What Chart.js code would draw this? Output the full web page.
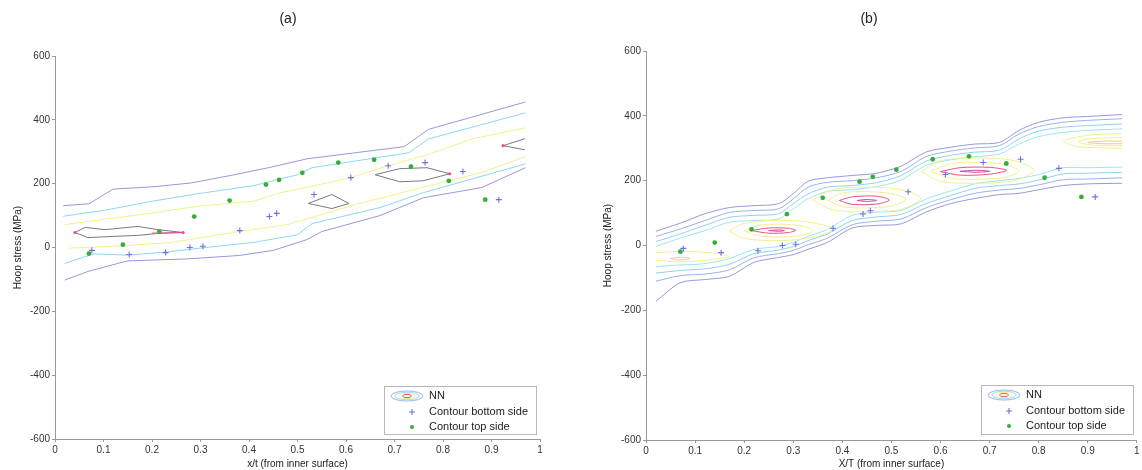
<!DOCTYPE html>
<html>
<head>
<meta charset="utf-8">
<script src="https://cdn.jsdelivr.net/npm/chart.js@4"></script>
<style>
  body { margin: 0; background: #fff; width: 1142px; height: 470px; overflow: hidden; position: relative; }
  canvas { position: absolute; top: 0; }
  #chartA { left: 0; }
  #chartB { left: 596px; }
</style>
</head>
<body>
<canvas id="chartA" width="576" height="470"></canvas>
<canvas id="chartB" width="546" height="470"></canvas>
<script>
// measured points, same in both panels
const bottomX = [0.076, 0.153, 0.228, 0.278, 0.305, 0.381, 0.442, 0.457, 0.534, 0.61, 0.687, 0.763, 0.841, 0.915];
const bottomY = [-9, -22, -16, 0, 4, 53, 97, 107, 166, 219, 256, 266, 238, 150];
const topX = [0.07, 0.14, 0.215, 0.287, 0.36, 0.435, 0.462, 0.51, 0.584, 0.658, 0.734, 0.812, 0.887];
const topY = [-19, 9, 50, 97, 147, 197, 212, 234, 266, 275, 253, 209, 150];

const xTicks = [0, 0.1, 0.2, 0.3, 0.4, 0.5, 0.6, 0.7, 0.8, 0.9, 1];
const yTicks = [-600, -400, -200, 0, 200, 400, 600];

// panel (a) NN contours
const aOuterUpX = [0.017, 0.07, 0.12, 0.2, 0.28, 0.37, 0.44, 0.52, 0.72, 0.77, 0.97];
const aOuterUpY = [131, 137, 183, 190, 202, 228, 250, 278, 316, 370, 456];
const aCyanUpX = [0.017, 0.1, 0.2, 0.31, 0.41, 0.5, 0.53, 0.73, 0.77, 0.97];
const aCyanUpY = [98, 116, 145, 172, 194, 228, 250, 297, 340, 422];
const aYellowUpX = [0.02, 0.1, 0.2, 0.3, 0.41, 0.46, 0.6, 0.7, 0.77, 0.86, 0.97];
const aYellowUpY = [72, 88, 108, 130, 145, 170, 215, 262, 292, 340, 375];
const aYellowLowX = [0.03, 0.14, 0.24, 0.38, 0.48, 0.62, 0.75, 0.88, 0.97];
const aYellowLowY = [-2, 5, 16, 50, 72, 135, 185, 235, 285];
const aCyanLowX = [0.02, 0.08, 0.15, 0.23, 0.31, 0.41, 0.5, 0.53, 0.67, 0.76, 0.97];
const aCyanLowY = [-50, -20, -24, -14, 0, 16, 40, 75, 125, 172, 262];
const aOuterLowX = [0.02, 0.07, 0.15, 0.27, 0.38, 0.45, 0.52, 0.55, 0.67, 0.76, 0.88, 0.97];
const aOuterLowY = [-102, -74, -42, -36, -25, -9, 25, 50, 100, 156, 188, 250];
const aLoop1X = [0.041, 0.062, 0.103, 0.171, 0.212, 0.264, 0.212, 0.171, 0.109, 0.068, 0.041];
const aLoop1Y = [47, 63, 56, 66, 56, 47, 44, 38, 34, 31, 47];
const aLoop2X = [0.522, 0.571, 0.606, 0.571, 0.522];
const aLoop2Y = [138, 166, 138, 122, 138];
const aLoop3X = [0.66, 0.711, 0.767, 0.814, 0.759, 0.711, 0.66];
const aLoop3Y = [228, 247, 250, 231, 209, 206, 228];
const aLoop4X = [0.969, 0.924, 0.969];
const aLoop4Y = [341, 319, 306];
const aPeakX = [0.041, 0.264, 0.814, 0.924];
const aPeakY = [47, 47, 231, 319];
const aRedX = [0.2, 0.264];
const aRedY = [45, 47];

// panel (b) NN contours, band lines on shared x knots
const bX = [0.02, 0.07, 0.12, 0.17, 0.22, 0.27, 0.30, 0.33, 0.37, 0.42, 0.47, 0.52, 0.57, 0.62, 0.67, 0.72, 0.76, 0.80, 0.85, 0.90, 0.97];
const bU1 = [44, 69, 98, 117, 123, 129, 160, 198, 209, 216, 223, 245, 288, 303, 313, 318, 355, 380, 394, 398, 404];
const bU2 = [28, 51, 77, 102, 108, 113, 144, 180, 195, 200, 209, 229, 274, 291, 301, 308, 344, 367, 380, 386, 391];
const bU3 = [12, 36, 62, 87, 93, 98, 129, 159, 180, 185, 194, 216, 260, 278, 288, 294, 329, 353, 365, 370, 375];
const bU4 = [-3, 23, 46, 72, 77, 82, 113, 144, 167, 172, 182, 202, 247, 264, 274, 282, 313, 336, 349, 355, 360];
const bL4 = [-65, -60, -56, -40, -12, -3, 10, 28, 50, 93, 103, 108, 143, 168, 190, 200, 207, 219, 240, 240, 242];
const bL3 = [-85, -77, -72, -58, -25, -14, -3, 15, 36, 77, 88, 96, 129, 154, 176, 185, 190, 202, 221, 223, 226];
const bL2 = [-110, -93, -88, -75, -38, -25, -15, 2, 23, 64, 75, 82, 116, 141, 161, 171, 176, 187, 203, 205, 209];
const bL1 = [-172, -115, -105, -95, -52, -37, -28, -12, 10, 54, 62, 67, 103, 129, 145, 157, 161, 172, 185, 190, 192];

// closed loops round the peaks
const bP0YelX = [0.02, 0.08, 0.14, 0.17, 0.13, 0.07, 0.02];
const bP0YelY = [-22, -18, -24, -34, -44, -50, -46];
const bP0OrX = [0.05, 0.07, 0.09, 0.07, 0.05];
const bP0OrY = [-40, -36, -40, -45, -40];
const bP1YelX = [0.17, 0.2, 0.27, 0.34, 0.38, 0.34, 0.27, 0.2, 0.17];
const bP1YelY = [45, 68, 78, 70, 50, 25, 15, 22, 45];
const bP1Yel2X = [0.2, 0.23, 0.27, 0.32, 0.34, 0.32, 0.27, 0.23, 0.2];
const bP1Yel2Y = [45, 62, 66, 60, 47, 32, 26, 30, 45];
const bP1RedX = [0.215, 0.25, 0.29, 0.305, 0.29, 0.25, 0.215];
const bP1RedY = [46, 54, 53, 47, 40, 38, 46];
const bP1MagX = [0.25, 0.27, 0.282, 0.27, 0.25];
const bP1MagY = [46, 48, 46, 44, 46];
const bP2YelX = [0.34, 0.38, 0.45, 0.52, 0.56, 0.52, 0.45, 0.38, 0.34];
const bP2YelY = [140, 172, 180, 172, 145, 112, 104, 110, 140];
const bP2Yel2X = [0.37, 0.4, 0.45, 0.5, 0.53, 0.5, 0.45, 0.4, 0.37];
const bP2Yel2Y = [140, 162, 166, 160, 142, 122, 116, 120, 140];
const bP2RedX = [0.394, 0.42, 0.47, 0.496, 0.47, 0.42, 0.394];
const bP2RedY = [139, 150, 152, 140, 128, 127, 139];
const bP2MagX = [0.43, 0.45, 0.47, 0.45, 0.43];
const bP2MagY = [139, 142, 139, 136, 139];
const bP3YelX = [0.56, 0.6, 0.67, 0.75, 0.79, 0.75, 0.67, 0.6, 0.56];
const bP3YelY = [228, 262, 270, 262, 232, 200, 192, 198, 228];
const bP3Yel2X = [0.58, 0.62, 0.67, 0.73, 0.76, 0.73, 0.67, 0.62, 0.58];
const bP3Yel2Y = [228, 252, 257, 250, 230, 210, 204, 208, 228];
const bP3RedX = [0.6, 0.64, 0.7, 0.735, 0.7, 0.64, 0.6];
const bP3RedY = [228, 240, 241, 232, 220, 217, 228];
const bP3MagX = [0.64, 0.67, 0.7, 0.67, 0.64];
const bP3MagY = [229, 232, 229, 226, 229];
const bP4YelX = [0.97, 0.9, 0.85, 0.88, 0.97];
const bP4YelY = [345, 340, 322, 305, 300];
const bP4Yel2X = [0.97, 0.91, 0.88, 0.91, 0.97];
const bP4Yel2Y = [333, 330, 320, 310, 308];
const bP4OrX = [0.97, 0.93, 0.9, 0.93, 0.97];
const bP4OrY = [322, 322, 318, 314, 314];

const FONT = '"Liberation Sans", Arial, sans-serif';
const pts = (xs, ys) => xs.map((x, i) => ({ x, y: ys[i] }));

const contour = (xs, ys, color, tension) => ({
  data: pts(xs, ys),
  showLine: true,
  borderColor: color,
  borderWidth: 1,
  pointRadius: 0,
  tension: tension || 0
});

const markers = () => [
  {
    data: pts(bottomX, bottomY),
    pointStyle: 'cross',
    pointRadius: 3,
    borderColor: '#7070e6',
    borderWidth: 1.1
  },
  {
    data: pts(topX, topY),
    pointStyle: 'circle',
    pointRadius: 2.4,
    backgroundColor: '#36ad36',
    borderColor: '#36ad36',
    borderWidth: 0
  }
];

// legend box inside the axes, drawn by hand
const nnLegend = {
  id: 'nnLegend',
  afterDraw(chart, args, o) {
    const ctx = chart.ctx;
    ctx.save();
    ctx.fillStyle = '#fff';
    ctx.fillRect(o.x, o.y, o.w, o.h);
    ctx.strokeStyle = '#b8b8b8';
    ctx.lineWidth = 1;
    ctx.strokeRect(o.x + 0.5, o.y + 0.5, o.w, o.h);
    const cx = o.x + 23, r1 = o.y + 10, r2 = o.y + 26, r3 = o.y + 41;
    [[16, 5, '#9ab8ec'], [12, 3.8, '#9adcf2'], [8, 2.6, '#f0f09a'], [4.5, 1.6, '#e8507a']].forEach(e => {
      ctx.beginPath();
      ctx.ellipse(cx, r1, e[0], e[1], 0, 0, Math.PI * 2);
      ctx.strokeStyle = e[2];
      ctx.stroke();
    });
    ctx.strokeStyle = '#7070e6';
    ctx.lineWidth = 1.1;
    ctx.beginPath();
    ctx.moveTo(cx + 5 - 3, r2); ctx.lineTo(cx + 5 + 3, r2);
    ctx.moveTo(cx + 5, r2 - 3); ctx.lineTo(cx + 5, r2 + 3);
    ctx.stroke();
    ctx.fillStyle = '#36ad36';
    ctx.beginPath();
    ctx.arc(cx + 5, r3, 2, 0, Math.PI * 2);
    ctx.fill();
    ctx.fillStyle = '#222';
    ctx.font = '11px ' + FONT;
    ctx.textBaseline = 'middle';
    ctx.fillText('NN', o.x + 45, r1);
    ctx.fillText('Contour bottom side', o.x + 45, r2);
    ctx.fillText('Contour top side', o.x + 45, r3);
    ctx.restore();
  }
};

const panelTitle = {
  id: 'panelTitle',
  afterDraw(chart, args, o) {
    const ctx = chart.ctx;
    ctx.save();
    ctx.fillStyle = '#222';
    ctx.font = '14px ' + FONT;
    ctx.textAlign = 'center';
    ctx.textBaseline = 'middle';
    ctx.fillText(o.text, o.x, o.y);
    ctx.restore();
  }
};

function makeChart(id, datasets, cfg) {
  return new Chart(document.getElementById(id), {
    type: 'scatter',
    data: { datasets },
    options: {
      responsive: false,
      animation: false,
      devicePixelRatio: 1,
      layout: { padding: { top: cfg.top, right: cfg.right, left: 0, bottom: 0 } },
      plugins: {
        legend: { display: false },
        tooltip: { enabled: false },
        nnLegend: cfg.legend,
        panelTitle: cfg.title
      },
      scales: {
        x: {
          type: 'linear',
          min: 0,
          max: 1,
          afterFit: s => { s.height = cfg.xh; },
          afterBuildTicks: s => { s.ticks = xTicks.map(v => ({ value: v })); },
          ticks: {
            font: { size: 10, family: FONT },
            color: '#333',
            padding: 2,
            maxRotation: 0,
            callback: v => String(+v.toFixed(1))
          },
          grid: { drawOnChartArea: false, tickLength: 3, color: '#999' },
          border: { color: '#999' },
          title: {
            display: true,
            text: cfg.xlabel,
            font: { size: 10, family: FONT },
            color: '#222',
            padding: { top: 0, bottom: 0 }
          }
        },
        y: {
          type: 'linear',
          min: -600,
          max: 600,
          afterFit: s => { s.width = cfg.yw; },
          afterBuildTicks: s => { s.ticks = yTicks.map(v => ({ value: v })); },
          ticks: {
            font: { size: 10, family: FONT },
            color: '#333',
            padding: 2
          },
          grid: { drawOnChartArea: false, tickLength: 3, color: '#999' },
          border: { color: '#999' },
          title: {
            display: true,
            text: 'Hoop stress (MPa)',
            font: { size: 10, family: FONT },
            color: '#222',
            padding: { top: cfg.ytitlePad, bottom: 0 }
          }
        }
      }
    },
    plugins: [nnLegend, panelTitle]
  });
}

const OUTER = '#9898dc', BLUE = '#98b2ea', LBLUE = '#94d0f2', CYAN = '#9ae6ee';
const YEL = '#f1f18e', ORANGE = '#f2c88a', RED = '#e8508a', MAG = '#d04aa0', GREY = '#7a7a7a';

makeChart('chartA', [
  ...markers(),
  { data: pts(aPeakX, aPeakY), pointRadius: 1.6, backgroundColor: RED, borderWidth: 0 },
  contour(aRedX, aRedY, RED),
  contour(aLoop1X, aLoop1Y, GREY),
  contour(aLoop2X, aLoop2Y, GREY),
  contour(aLoop3X, aLoop3Y, GREY),
  contour(aLoop4X, aLoop4Y, GREY),
  contour(aYellowUpX, aYellowUpY, YEL),
  contour(aYellowLowX, aYellowLowY, YEL),
  contour(aCyanUpX, aCyanUpY, '#8cd6f2'),
  contour(aCyanLowX, aCyanLowY, '#8cd6f2'),
  contour(aOuterUpX, aOuterUpY, OUTER),
  contour(aOuterLowX, aOuterLowY, OUTER)
], {
  top: 56, right: 36, xh: 31, yw: 55, ytitlePad: 12,
  xlabel: 'x/t (from inner surface)',
  legend: { x: 384, y: 386, w: 152, h: 48 },
  title: { text: '(a)', x: 288, y: 19 }
});

const T = 0.3;
makeChart('chartB', [
  ...markers(),
  contour(bP1MagX, bP1MagY, MAG, T),
  contour(bP2MagX, bP2MagY, MAG, T),
  contour(bP3MagX, bP3MagY, MAG, T),
  contour(bP1RedX, bP1RedY, RED, T),
  contour(bP2RedX, bP2RedY, RED, T),
  contour(bP3RedX, bP3RedY, RED, T),
  contour(bP0OrX, bP0OrY, ORANGE, T),
  contour(bP4OrX, bP4OrY, ORANGE, T),
  contour(bP1Yel2X, bP1Yel2Y, YEL, T),
  contour(bP2Yel2X, bP2Yel2Y, YEL, T),
  contour(bP3Yel2X, bP3Yel2Y, YEL, T),
  contour(bP4Yel2X, bP4Yel2Y, YEL, T),
  contour(bP0YelX, bP0YelY, YEL, T),
  contour(bP1YelX, bP1YelY, YEL, T),
  contour(bP2YelX, bP2YelY, YEL, T),
  contour(bP3YelX, bP3YelY, YEL, T),
  contour(bP4YelX, bP4YelY, YEL, T),
  contour(bX, bU4, CYAN, T),
  contour(bX, bL4, CYAN, T),
  contour(bX, bU3, LBLUE, T),
  contour(bX, bL3, LBLUE, T),
  contour(bX, bU2, BLUE, T),
  contour(bX, bL2, BLUE, T),
  contour(bX, bU1, OUTER, T),
  contour(bX, bL1, OUTER, T)
], {
  top: 51, right: 4, xh: 30, yw: 50, ytitlePad: 6,
  xlabel: 'X/T (from inner surface)',
  legend: { x: 385, y: 385, w: 152, h: 49 },
  title: { text: '(b)', x: 273, y: 19 }
});
</script>
</body>
</html>
